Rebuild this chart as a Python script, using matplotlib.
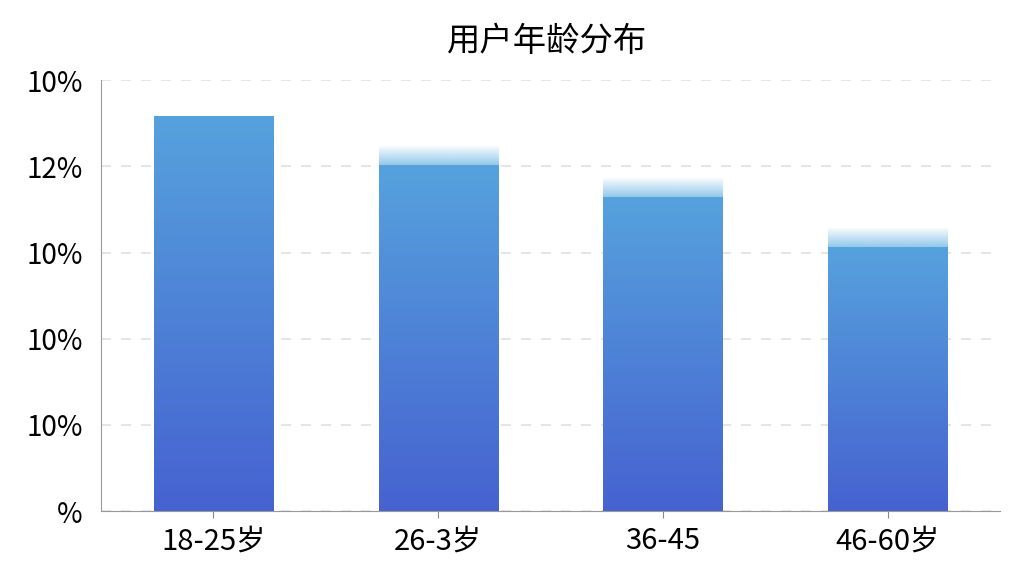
import numpy as np
import matplotlib
matplotlib.use("Agg")
import matplotlib.pyplot as plt
from matplotlib.colors import LinearSegmentedColormap

plt.rcParams['font.family'] = ['Noto Sans CJK SC', 'DejaVu Sans']

title = "用户年龄分布"
categories = ["18-25岁", "26-3岁", "36-45", "46-60岁"]
values = [45.9, 40.1, 36.4, 30.6]
fade_tops = [45.9, 42.2, 38.5, 32.7]
ytick_values = [0, 10, 20, 30, 40, 50]
ytick_labels = ["%", "10%", "10%", "10%", "12%", "10%"]

fig = plt.figure(figsize=(10.24, 5.76), dpi=100)
ax = fig.add_axes([0.0986, 0.1128, 0.878, 0.748])

x = np.arange(len(categories))
width = 0.53
bottom_col = np.array([0x46, 0x62, 0xd0]) / 255
top_col = np.array([0x56, 0xa2, 0xdd]) / 255

grad = np.linspace(0, 1, 256).reshape(-1, 1)
cmap = LinearSegmentedColormap.from_list("g", [bottom_col, top_col])

bars = ax.bar(x, values, width=width, color="none", edgecolor="none", zorder=3)
for xi, v, ft, b in zip(x, values, fade_tops, bars):
    im = ax.imshow(grad, cmap=cmap, aspect="auto", origin="lower",
                   extent=[xi - width / 2, xi + width / 2, 0, v], zorder=3)
    im.set_clip_path(b)
    if ft > v:
        rgba = np.zeros((64, 1, 4))
        fcol = np.array([0x80, 0xbe, 0xe8]) / 255
        rgba[:, 0, :3] = fcol
        rgba[:, 0, 3] = np.linspace(0.85, 0.05, 64)
        ax.imshow(rgba, aspect="auto", origin="lower",
                  extent=[xi - width / 2, xi + width / 2, v, ft], zorder=3)

ax.set_xlim(-0.5, 3.5)
ax.set_ylim(0, 50)
ax.set_yticks(ytick_values)
ax.set_yticklabels(ytick_labels, fontsize=20)
ax.set_xticks(x)
ax.set_xticklabels(categories, fontsize=21)
ax.tick_params(axis='y', length=0, pad=13)
ax.tick_params(axis='x', length=5, color="#888888", pad=6)

ax.yaxis.grid(True, linestyle=(0, (6, 6)), color="#e0e0e0", linewidth=1.2, zorder=0)
ax.set_axisbelow(True)
for s in ["top", "right"]:
    ax.spines[s].set_visible(False)
ax.spines["left"].set_color("#999999")
ax.spines["bottom"].set_color("#999999")

fig.text(0.534, 0.928, title, fontsize=24, ha="center", va="center")

fig.savefig("out.png", dpi=100)
